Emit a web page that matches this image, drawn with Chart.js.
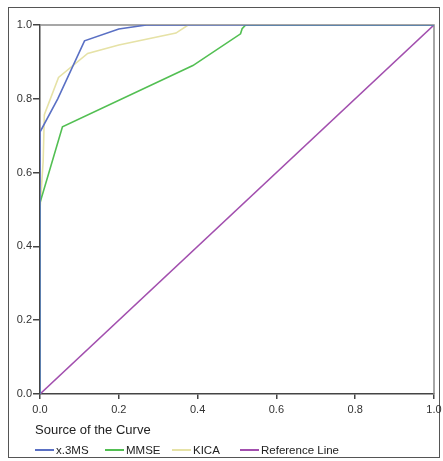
<!DOCTYPE html>
<html>
<head>
<meta charset="utf-8">
<script src="https://cdn.jsdelivr.net/npm/chart.js@4.4.0/dist/chart.umd.min.js"></script>
<style>
  html, body { margin: 0; padding: 0; background: #fff; }
  #wrap { position: relative; width: 443px; height: 461px; font-family: Arial, "Liberation Sans", sans-serif; }
  #frame { position: absolute; left: 8px; top: 7px; width: 432px; height: 451px; border: 1px solid #555; box-sizing: border-box; }
  canvas { position: absolute; left: 0; top: 0; }
  #legendTitle { position: absolute; left: 35px; top: 422px; font-size: 13px; color: #222; }
  .item { position: absolute; top: 444px; font-size: 11.5px; color: #222; white-space: nowrap; }
  .item span.sw { display: inline-block; width: 19px; height: 0; border-top: 2px solid; vertical-align: middle; margin-right: 2px; position: relative; top: -1px; }
</style>
</head>
<body>
<div id="wrap">
  <div id="frame"></div>
  <canvas id="roc" width="443" height="461"></canvas>
  <div id="legendTitle">Source of the Curve</div>
  <div id="legend"></div>
</div>
<script>
// ROC curves (1 - specificity, sensitivity)
const seriesNames = ['x.3MS', 'MMSE', 'KICA', 'Reference Line'];
const seriesColors = ['#5a70c4', '#52bf52', '#e6e2a6', '#a24fae'];

const x3msFpr = [0, 0, 0.045, 0.113, 0.2, 0.27, 1];
const x3msTpr = [0, 0.71, 0.80, 0.957, 0.989, 1, 1];

const mmseFpr = [0, 0, 0.057, 0.388, 0.509, 0.513, 0.522, 1];
const mmseTpr = [0, 0.518, 0.724, 0.89, 0.976, 0.99, 1, 1];

const kicaFpr = [0, 0, 0.008, 0.011, 0.047, 0.121, 0.2, 0.345, 0.376, 1];
const kicaTpr = [0, 0.5, 0.63, 0.757, 0.858, 0.923, 0.946, 0.978, 1, 1];

const refFpr = [0, 1];
const refTpr = [0, 1];

const tickValues = [0, 0.2, 0.4, 0.6, 0.8, 1.0];

function pts(xs, ys) {
  return xs.map((x, i) => ({ x: x, y: ys[i] }));
}

const allX = [x3msFpr, mmseFpr, kicaFpr, refFpr];
const allY = [x3msTpr, mmseTpr, kicaTpr, refTpr];

// legend in html
const legendPos = [35, 105, 172, 240];
const legend = document.getElementById('legend');
seriesNames.forEach((name, i) => {
  const d = document.createElement('div');
  d.className = 'item';
  d.style.left = legendPos[i] + 'px';
  d.innerHTML = '<span class="sw" style="border-color:' + seriesColors[i] + '"></span>' + name;
  legend.appendChild(d);
});

// gray frame on top and right of the plot area
const plotFrame = {
  id: 'plotFrame',
  beforeDatasetsDraw(chart) {
    const a = chart.chartArea;
    const c = chart.ctx;
    c.save();
    c.strokeStyle = '#8a8a8a';
    c.lineWidth = 1.5;
    c.beginPath();
    c.moveTo(a.left, a.top);
    c.lineTo(a.right, a.top);
    c.lineTo(a.right, a.bottom);
    c.stroke();
    c.restore();
  }
};

new Chart(document.getElementById('roc'), {
  type: 'scatter',
  data: {
    datasets: seriesNames.map((name, i) => ({
      label: name,
      data: pts(allX[i], allY[i]),
      showLine: true,
      borderColor: seriesColors[i],
      borderWidth: 1.6,
      pointRadius: 0,
      tension: 0
    }))
  },
  options: {
    responsive: false,
    animation: false,
    layout: { padding: { left: 0, top: 25, right: 9, bottom: 0 } },
    plugins: { legend: { display: false }, tooltip: { enabled: false } },
    scales: {
      x: {
        type: 'linear', min: 0, max: 1,
        afterBuildTicks: s => { s.ticks = tickValues.map(v => ({ value: v })); },
        afterFit: s => { s.height = 67; s.paddingLeft = 0; s.paddingRight = 0; },
        border: { color: '#444', width: 1.5 },
        grid: { drawOnChartArea: false, color: '#444', tickLength: 5, lineWidth: 1.5 },
        ticks: { color: '#333', font: { family: 'Arial', size: 11 }, padding: 4, callback: v => v.toFixed(1), maxRotation: 0 }
      },
      y: {
        type: 'linear', min: 0, max: 1,
        afterBuildTicks: s => { s.ticks = tickValues.map(v => ({ value: v })); },
        afterFit: s => { s.width = 40; s.paddingTop = 0; s.paddingBottom = 0; },
        border: { color: '#444', width: 1.5 },
        grid: { drawOnChartArea: false, color: '#444', tickLength: 7, lineWidth: 1.5 },
        ticks: { color: '#333', font: { family: 'Arial', size: 11 }, padding: 1, callback: v => v.toFixed(1) }
      }
    }
  },
  plugins: [plotFrame]
});
</script>
</body>
</html>
